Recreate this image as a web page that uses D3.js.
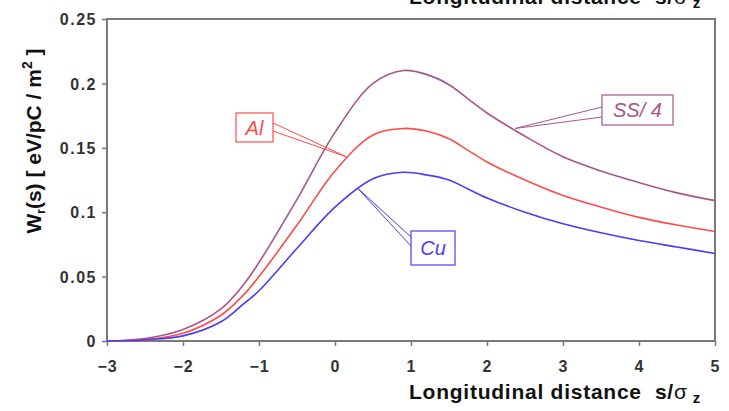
<!DOCTYPE html>
<html><head><meta charset="utf-8">
<script src="https://cdn.jsdelivr.net/npm/d3@7"></script>
<style>
html,body{margin:0;padding:0;background:#fff;}
svg{display:block;}
text{font-family:"Liberation Sans",Arial,sans-serif;}
</style></head>
<body>
<svg id="chart" width="729" height="411"></svg>
<script>
// ---- data ----
const sValues = [-3, -2.5, -2, -1.5, -1.2, -1, -0.5, 0, 0.5, 0.9, 1.2, 1.5, 1.75, 2, 2.5, 3, 3.5, 4, 4.5, 5];
const ssValues = [0, 0.002, 0.009, 0.025, 0.044, 0.061, 0.110, 0.162, 0.200, 0.210, 0.207, 0.199, 0.188, 0.177, 0.159, 0.143, 0.132, 0.123, 0.115, 0.109];
const alValues = [0, 0.001, 0.006, 0.020, 0.036, 0.050, 0.090, 0.132, 0.160, 0.165, 0.163, 0.157, 0.148, 0.139, 0.125, 0.113, 0.104, 0.096, 0.090, 0.085];
const cuValues = [0, 0.001, 0.004, 0.015, 0.029, 0.039, 0.072, 0.104, 0.126, 0.131, 0.129, 0.125, 0.118, 0.111, 0.100, 0.091, 0.084, 0.078, 0.073, 0.068];
const xTicks = [-3, -2, -1, 0, 1, 2, 3, 4, 5];
const yTicks = [0, 0.05, 0.1, 0.15, 0.2, 0.25];
const yTickLabels = ["0", "0.05", "0.1", "0.15", "0.2", "0.25"];
const seriesNames = ["SS/ 4", "Al", "Cu"];
const seriesColors = ["#a8558a", "#ff4a4a", "#4b3cf5"];

// ---- layout ----
const svg = d3.select("#chart");
const L = 107, R = 715, T = 19, B = 341;
const x = d3.scaleLinear().domain([-3, 5]).range([L, R]);
const y = d3.scaleLinear().domain([0, 0.25]).range([B, T]);

// axes
const xAxis = d3.axisBottom(x).tickValues(xTicks).tickSize(5).tickSizeOuter(0).tickFormat(d3.format("d"));
const gx = svg.append("g").attr("transform", `translate(0,${B})`).call(xAxis);
gx.select(".domain").remove();
gx.selectAll("line").attr("stroke", "#777").attr("stroke-width", 1.5);
gx.selectAll("text").attr("font-size", 16).attr("font-weight", "bold").attr("fill", "#333")
  .attr("letter-spacing", 1).attr("dy", null).attr("y", 31);

const yAxis = d3.axisLeft(y).tickValues(yTicks).tickSize(5).tickSizeOuter(0)
  .tickFormat((d, i) => yTickLabels[i]);
const gy = svg.append("g").attr("transform", `translate(${L},0)`).call(yAxis);
gy.select(".domain").remove();
gy.selectAll("line").attr("stroke", "#777").attr("stroke-width", 1.5);
gy.selectAll("text").attr("font-size", 16).attr("font-weight", "bold").attr("fill", "#333")
  .attr("letter-spacing", 1.5).attr("x", -10).attr("dy", "0.36em");

// frame
svg.append("rect").attr("x", L).attr("y", T).attr("width", R - L).attr("height", B - T)
  .attr("fill", "none").attr("stroke", "#7a7a7a").attr("stroke-width", 2);

// curves
const line = d3.line().x((d, i) => x(sValues[i])).y(d => y(d)).curve(d3.curveCatmullRom.alpha(0.5));
[ssValues, alValues, cuValues].forEach((vals, k) => {
  svg.append("path").datum(vals).attr("d", line).attr("fill", "none")
    .attr("stroke", seriesColors[k]).attr("stroke-width", 1.6);
});

// callout labels
function callout(name, color, box, tip, p1, p2) {
  svg.append("path")
    .attr("d", `M${p1[0]},${p1[1]}L${tip[0]},${tip[1]}L${p2[0]},${p2[1]}`)
    .attr("fill", "none").attr("stroke", color).attr("stroke-width", 1);
  svg.append("rect").attr("x", box[0]).attr("y", box[1]).attr("width", box[2]).attr("height", box[3])
    .attr("fill", "#fff").attr("stroke", color).attr("stroke-width", 1.2);
  svg.append("text").attr("x", box[0] + box[2] / 2).attr("y", box[1] + box[3] / 2 + 7)
    .attr("text-anchor", "middle").attr("font-size", 20).attr("font-style", "italic")
    .attr("fill", color).text(name);
}
callout(seriesNames[1], seriesColors[1], [236, 113, 37, 29], [x(0.15), y(0.143)], [273, 123], [273, 131]);
callout(seriesNames[2], seriesColors[2], [411, 231, 44, 34], [x(0.3), y(0.1185)], [411, 237], [411, 246]);
callout(seriesNames[0], seriesColors[0], [602, 95, 71, 30], [x(2.37), y(0.165)], [602, 107], [602, 117]);

// axis titles
function xTitle(yPos) {
  const t = svg.append("text").attr("x", 409).attr("y", yPos).attr("font-size", 21)
    .attr("font-weight", "bold").attr("fill", "#111").attr("letter-spacing", 0.75);
  t.append("tspan").text("Longitudinal distance\u00a0\u00a0s/");
  t.append("tspan").attr("font-weight", "normal").text("σ");
  t.append("tspan").attr("font-size", 15).attr("dx", 5).attr("dy", 4).text("z");
}
xTitle(399);
xTitle(4);

const yt = svg.append("text").attr("transform", "translate(41,141) rotate(-90)")
  .attr("text-anchor", "middle").attr("font-size", 21).attr("font-weight", "bold").attr("fill", "#111");
yt.append("tspan").text("W");
yt.append("tspan").attr("font-size", 12).attr("dy", 4).text("r");
yt.append("tspan").attr("dy", -4).text("(s) [ eV/pC / m");
yt.append("tspan").attr("font-size", 14).attr("dy", -9).text("2");
yt.append("tspan").attr("dy", 9).text(" ]");
</script>
</body></html>
